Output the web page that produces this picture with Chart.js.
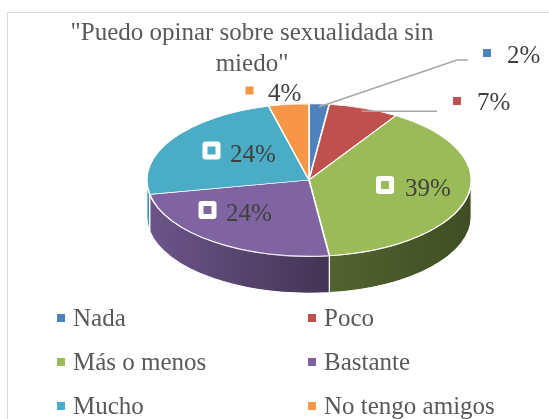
<!DOCTYPE html>
<html>
<head>
<meta charset="utf-8">
<script src="https://cdn.jsdelivr.net/npm/chart.js@4.4.0/dist/chart.umd.min.js"></script>
<style>
  html, body { margin: 0; padding: 0; background: #fff; overflow: hidden; }
  #wrap { position: relative; width: 549px; height: 419px; overflow: hidden; }
  #frame { position: absolute; left: 7px; top: 12px; width: 700px; height: 600px;
           border: 1px solid #d9d9d9; box-sizing: border-box; }
  #chartBox { position: absolute; left: 0; top: 0; width: 549px; height: 419px; }
  .serif { font-family: Tinos, "Liberation Serif", serif; }
  #title { position: absolute; left: 52px; width: 400px; top: 16px; text-align: center;
           font-size: 25px; line-height: 31px; color: #595959; }
  .item { position: absolute; height: 44px; line-height: 44px; white-space: nowrap;
          font-size: 25px; color: #595959; }
  .item i { position: absolute; left: 0; top: 18px; width: 8px; height: 8px; }
  .item span { position: absolute; left: 16px; top: 0; }
</style>
</head>
<body>
<div id="wrap">
  <div id="frame"></div>
  <div id="chartBox"><canvas id="myChart"></canvas></div>
  <div id="title" class="serif">"Puedo opinar sobre sexualidada sin<br>miedo"</div>
  <div id="legend"></div>
</div>
<script>
const categories = ['Nada', 'Poco', 'Más o menos', 'Bastante', 'Mucho', 'No tengo amigos'];
const values = [2, 7, 39, 24, 24, 4];
const colors = ['#4f81bd', '#c0504d', '#9bbb59', '#8064a2', '#4bacc6', '#f79646'];

// look of the fake 3d pie
const TILT = 0.47;
const DEPTH = 37;
const LABEL_FONT = '25px Tinos, "Liberation Serif", serif';

// where Excel put each data label (icon centre, text start, baseline, leader)
const labelSpots = [
  { kind: 'outer', ix: 487, iy: 53, tx: 507, base: 63, leader: [[457, 60], [468, 60]] },
  { kind: 'outer', ix: 457, iy: 101, tx: 477, base: 110, leader: [[437, null]] },
  { kind: 'inner', ix: 385, iy: 185, tx: 405, base: 196 },
  { kind: 'inner', ix: 207.5, iy: 210, tx: 226, base: 221 },
  { kind: 'inner', ix: 211.5, iy: 150.5, tx: 230, base: 162 },
  { kind: 'outer', ix: 249.5, iy: 90.5, tx: 268, base: 101 }
];

function shade(hex, f) {
  const n = parseInt(hex.slice(1), 16);
  const r = Math.round(((n >> 16) & 255) * f);
  const g = Math.round(((n >> 8) & 255) * f);
  const b = Math.round((n & 255) * f);
  return 'rgb(' + r + ',' + g + ',' + b + ')';
}

const pie3d = {
  id: 'pie3d',
  beforeDatasetsDraw(chart) {
    const ctx = chart.ctx;
    const arcs = chart.getDatasetMeta(0).data;
    const cx = arcs[0].x, cy = arcs[0].y;
    const rx = arcs[0].outerRadius, ry = rx * TILT;

    arcs.forEach((arc, i) => {
      const s = Math.max(arc.startAngle, 0);
      const e = Math.min(arc.endAngle, Math.PI);
      if (e <= s) return;
      const grad = ctx.createLinearGradient(cx - rx, 0, cx + rx, 0);
      grad.addColorStop(0, shade(colors[i], 0.85));
      grad.addColorStop(0.55, shade(colors[i], 0.53));
      grad.addColorStop(1, shade(colors[i], 0.41));
      ctx.beginPath();
      ctx.ellipse(cx, cy, rx, ry, 0, s, e);
      ctx.ellipse(cx, cy + DEPTH, rx, ry, 0, e, s, true);
      ctx.closePath();
      ctx.fillStyle = grad;
      ctx.fill();
      ctx.strokeStyle = '#ffffff';
      ctx.lineWidth = 1.2;
      ctx.stroke();
    });

    ctx.save();
    ctx.translate(0, cy * (1 - TILT));
    ctx.scale(1, TILT);
  },
  afterDatasetsDraw(chart) {
    const ctx = chart.ctx;
    ctx.restore();

    const arcs = chart.getDatasetMeta(0).data;
    const total = values.reduce((a, b) => a + b, 0);
    ctx.save();
    ctx.font = LABEL_FONT;
    ctx.textBaseline = 'alphabetic';
    arcs.forEach((arc, i) => {
      const spot = labelSpots[i];
      const txt = Math.round(values[i] / total * 100) + '%';
      if (spot.leader) {
        const mid = (arc.startAngle + arc.endAngle) / 2;
        const r = arc.outerRadius * 0.96;
        const sx = arc.x + r * Math.cos(mid);
        const sy = arc.y + r * TILT * Math.sin(mid);
        ctx.beginPath();
        ctx.moveTo(sx, sy);
        spot.leader.forEach(p => ctx.lineTo(p[0], p[1] === null ? sy : p[1]));
        ctx.strokeStyle = '#a6a6a6';
        ctx.lineWidth = 1.5;
        ctx.stroke();
      }
      if (spot.kind === 'inner') {
        ctx.fillStyle = '#ffffff';
        ctx.beginPath();
        ctx.roundRect(spot.ix - 9, spot.iy - 9, 18, 18, 3);
        ctx.fill();
      }
      ctx.fillStyle = colors[i];
      ctx.fillRect(spot.ix - 4, spot.iy - 4, 8, 8);
      ctx.fillStyle = '#404040';
      ctx.fillText(txt, spot.tx, spot.base);
    });
    ctx.restore();
  }
};

const ctx = document.getElementById('myChart').getContext('2d');
const myChart = new Chart(ctx, {
  type: 'pie',
  data: {
    labels: categories,
    datasets: [{
      data: values,
      backgroundColor: colors,
      borderColor: '#ffffff',
      borderWidth: 1.6
    }]
  },
  options: {
    responsive: true,
    maintainAspectRatio: false,
    animation: false,
    events: [],
    layout: { padding: { left: 146, right: 77, top: 17, bottom: 76 } },
    plugins: {
      legend: { display: false },
      title: { display: false },
      tooltip: { enabled: false }
    }
  },
  plugins: [pie3d]
});

// two column legend like the Excel one
const legendEl = document.getElementById('legend');
const colX = [57, 308];
const rowY = [318, 362, 406];
categories.forEach((name, i) => {
  const item = document.createElement('div');
  item.className = 'item serif';
  item.style.left = colX[i % 2] + 'px';
  item.style.top = (rowY[Math.floor(i / 2)] - 22) + 'px';
  item.innerHTML = '<i style="background:' + colors[i] + '"></i><span></span>';
  item.querySelector('span').textContent = name;
  legendEl.appendChild(item);
});

// redraw once the fonts are settled so the canvas labels pick them up
if (document.fonts && document.fonts.ready) {
  document.fonts.ready.then(() => myChart.draw());
}
</script>
</body>
</html>
